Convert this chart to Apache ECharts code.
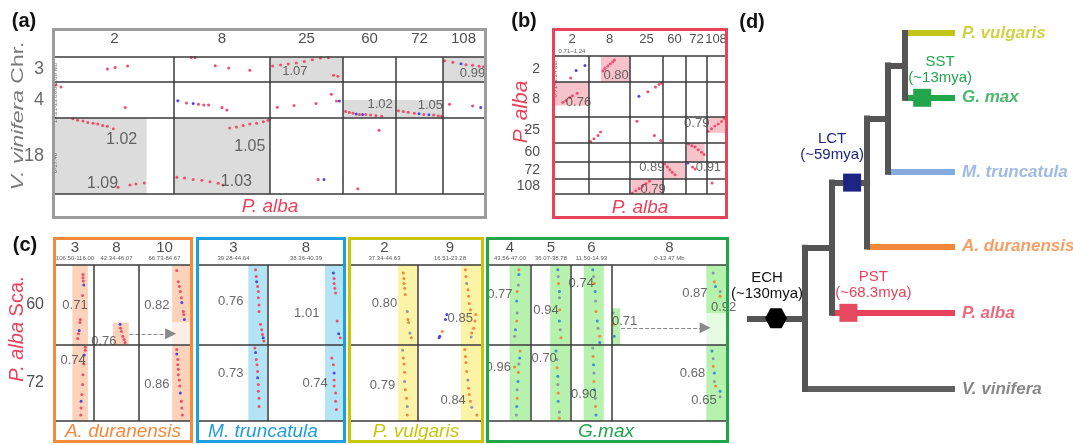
<!DOCTYPE html>
<html>
<head>
<meta charset="utf-8">
<script src="https://cdn.jsdelivr.net/npm/echarts@6/dist/echarts.min.js"></script>
<style>
  html, body { margin: 0; padding: 0; background: #fff; }
  #main { width: 1073px; height: 445px; }
</style>
</head>
<body>
<div id="main"></div>
<script>
// ---------------- (a) V. vinifera chromosomes vs P. alba segments ----------------
const aCols = ['2', '8', '25', '60', '72', '108'];
const aColLen = [119, 96, 73, 53, 47, 41];
const aRows = ['3', '4', '18'];
const aRowRange = ['0-3.89 Mb', '13.21-23.88', '0-17.40'];
const aRowLen = [25, 36, 76];
// shaded syntenic blocks: [col, row, x0, x1, y0, y1] (fractions of the cell)
const aShaded = [[2,0,0,1,0,1],[5,0,0,1,0,1],[3,1,0,1,.5,1],[4,1,0,1,.5,1],[0,2,0,.77,0,1],[1,2,0,1,0,1]];
// Ks ratios written in the cells: [col, row, fx, fy, value]
const aKs = [[2,0,.34,.59,'1.07'],[5,0,.72,.67,'0.99'],[3,1,.70,.63,'1.02'],[4,1,.73,.65,'1.05'],
             [0,2,.56,.29,'1.02'],[0,2,.40,.86,'1.09'],[1,2,.79,.38,'1.05'],[1,2,.65,.84,'1.03']];
// collinear gene pairs: [col, row, fx, fy]
const aRed = [
  [0,0,.44,.48],[0,0,.505,.42],[0,0,.61,.36],
  [0,1,.01,.08],[0,1,.05,.14],[0,1,.59,.71],
  [0,2,.15,.01],[0,2,.19,.03],[0,2,.235,.04],[0,2,.275,.06],[0,2,.32,.07],[0,2,.36,.08],[0,2,.40,.10],[0,2,.44,.11],[0,2,.49,.14],
  [0,2,.53,.91],[0,2,.63,.88],[0,2,.68,.87],[0,2,.75,.855],
  [1,0,.18,.02],[1,0,.22,.02],[1,0,.43,.35],[1,0,.57,.44],[1,0,.79,.53],
  [1,1,.13,.58],[1,1,.255,.62],[1,1,.31,.64],[1,1,.36,.64],[1,1,.50,.71],[1,1,.55,.78],
  [1,2,.58,.13],[1,2,.65,.12],[1,2,.72,.10],[1,2,.79,.08],[1,2,.86,.07],[1,2,.93,.05],[1,2,.98,.03],
  [1,2,.03,.78],[1,2,.11,.79],[1,2,.20,.81],[1,2,.29,.82],[1,2,.375,.84],[1,2,.46,.86],[1,2,.51,.88],
  [2,0,.035,.36],[2,0,.145,.32],[2,0,.25,.28],[2,0,.36,.24],[2,0,.47,.18],[2,0,.58,.11],[2,0,.69,.04],[2,0,.80,.03],[2,0,.87,.73],[2,0,.93,.77],
  [2,1,.10,.70],[2,1,.33,.65],[2,1,.63,.60],[2,1,.84,.34],[2,1,.91,.53],
  [2,2,.66,.81],
  [3,1,.05,.82],[3,1,.12,.85],[3,1,.19,.87],[3,1,.31,.90],[3,1,.43,.90],[3,1,.52,.92],[3,1,.62,.93],[3,1,.73,.95],
  [3,2,.68,.16],[3,2,.28,.93],
  [4,1,.05,.80],[4,1,.155,.82],[4,1,.26,.84],[4,1,.39,.87],[4,1,.59,.90],[4,1,.80,.92],[4,1,.90,.94],[4,1,.97,.95],
  [5,0,.04,.15],[5,0,.24,.21],[5,0,.56,.31],[5,0,.72,.33],[5,0,.88,.37],[5,0,.99,.39],
  [5,1,.16,.62],[5,1,.72,.67]
];
const aBlue = [[1,1,.04,.52],[1,1,.20,.60],[2,1,.95,.53],[2,2,.74,.81],[3,1,.25,.89],[3,1,.37,.90],[4,1,.49,.88],[4,1,.70,.91],[5,0,.44,.27],[5,1,.92,.71]];

// ---------------- (b) P. alba self comparison ----------------
const bCols = ['2', '8', '25', '60', '72', '108'];
const bColRange = ['0.71~1.24', '', '', '', '', ''];
const bColLen = [34, 41, 33, 23, 21, 18];
const bRows = ['2', '8', '25', '60', '72', '108'];
const bRowRange = ['0.71~1.24 Mb', '', '', '', '', ''];
const bRowLen = [26, 35, 26, 19, 17, 15];
const bShaded = [[1,0,.29,1,0,1],[0,1,0,1,0,.67],[5,2,0,1,0,.61],[4,3,.05,.89,0,1],[3,4,0,1,0,1],[2,5,.04,1,0,1]];
const bKs = [[1,0,.66,.75,'0.80'],[0,1,.69,.59,'0.76'],[4,2,.51,.26,'0.79'],[2,4,.66,.29,'0.89'],[5,4,.08,.29,'0.91'],[2,5,.70,.72,'0.79']];
const bRed = [
  [0,0,.46,.85],
  [1,0,.34,.57],[1,0,.39,.47],[1,0,.46,.38],[1,0,.52,.30],[1,0,.58,.22],[1,0,.62,.15],
  [0,1,.23,.58],[0,1,.32,.53],[0,1,.435,.44],[0,1,.51,.39],[0,1,.65,.32],
  [2,1,.54,.28],[2,1,.77,.14],[2,1,.88,.07],[2,1,.95,.03],
  [1,2,.04,.94],[1,2,.12,.84],[1,2,.22,.71],[1,2,.28,.58],
  [2,2,.21,.16],[2,2,.74,.71],[2,2,.93,.90],
  [5,2,.06,.55],[5,2,.25,.45],[5,2,.43,.35],[5,2,.62,.27],[5,2,.81,.17],[5,2,.96,.06],
  [4,3,.12,.05],[4,3,.28,.14],[4,3,.43,.21],[4,3,.58,.35],[4,3,.74,.49],[4,3,.86,.61],
  [3,4,.07,.12],[3,4,.19,.29],[3,4,.30,.45],[3,4,.40,.61],[3,4,.52,.75],
  [4,4,.31,.29],[4,4,.43,.41],
  [5,5,.28,.26],
  [2,5,.07,.94],[2,5,.175,.79],[2,5,.28,.64],[2,5,.38,.47],[2,5,.485,.30],[2,5,.59,.15]
];
const bBlue = [[0,0,.62,.56],[0,0,.88,.37],[2,1,.27,.41],[4,4,.09,.06]];

// ---------------- (c) P. alba scaffolds vs legume genomes ----------------
const cRows = ['60', '72'];
const cRowLen = [80, 76];

const aduCols = ['3', '8', '10'];
const aduRange = ['106.50-116.00', '42.34-46.07', '66.73-84.67'];
const aduLen = [38, 45, 51];
const aduShaded = [[0,0,.43,.84,0,1],[0,1,.43,.84,0,1],[1,0,.42,.77,.72,1],[2,0,.65,1,0,.72],[2,0,.65,1,.72,1,'light'],[2,1,.65,1,0,1]];
const aduKs = [[0,0,.5,.50,'0.71'],[1,0,.22,.95,'0.76'],[2,0,.35,.50,'0.82'],[0,1,.45,.20,'0.74'],[2,1,.35,.52,'0.86']];
const aduRed = [
  [0,0,.71,.12],[0,0,.71,.16],[0,0,.72,.20],[0,0,.70,.38],[0,0,.64,.68],[0,0,.63,.72],[0,0,.59,.86],[0,0,.57,.92],
  [0,1,.77,.03],[0,1,.77,.07],[0,1,.73,.25],[0,1,.71,.39],[0,1,.70,.52],[0,1,.68,.65],[0,1,.66,.83],[0,1,.65,.92],
  [1,0,.59,.79],[1,0,.61,.83],[1,0,.64,.89],[1,0,.67,.93],[1,0,.69,.97],
  [2,0,.74,.07],[2,0,.77,.21],[2,0,.79,.27],[2,0,.81,.33],[2,0,.83,.41],[2,0,.87,.58],[2,0,.88,.62],
  [2,1,.74,.06],[2,1,.76,.19],[2,1,.76,.26],[2,1,.77,.32],[2,1,.77,.39],[2,1,.79,.46],[2,1,.80,.54],[2,1,.83,.74],[2,1,.84,.83],[2,1,.85,.92]
];
const aduBlue = [[0,0,.73,.25],[0,0,.61,.82],[0,1,.74,.13],[0,1,.66,.74],[1,0,.58,.74],[2,0,.84,.47],[2,0,.89,.68],[2,1,.74,.12],[2,1,.81,.63]];
// relocated block: [fromCol, fx, toCol, fx, row, fy]
const aduMove = [[1,.79,2,.62,0,.86]];

const mtrCols = ['3', '8'];
const mtrRange = ['39.28-44.64', '38.36-40.39'];
const mtrLen = [69, 76];
const mtrShaded = [[0,0,.715,.99,0,1],[0,1,.715,.99,0,1],[1,0,.75,1,0,1],[1,1,.75,1,0,1]];
const mtrKs = [[0,0,.46,.45,'0.76'],[1,0,.51,.60,'1.01'],[0,1,.46,.37,'0.73'],[1,1,.62,.50,'0.74']];
const mtrRed = [
  [0,0,.82,.06],[0,0,.83,.145],[0,0,.85,.27],[0,0,.86,.33],[0,0,.86,.41],[0,0,.87,.50],[0,0,.87,.58],[0,0,.89,.74],[0,0,.91,.81],[0,0,.92,.87],[0,0,.94,.95],
  [0,1,.81,.04],[0,1,.83,.19],[0,1,.84,.26],[0,1,.85,.35],[0,1,.86,.52],[0,1,.86,.61],[0,1,.87,.70],[0,1,.87,.81],
  [1,0,.87,.17],[1,0,.87,.23],[1,0,.88,.29],[1,0,.89,.35],[1,0,.91,.70],[1,0,.95,.91],
  [1,1,.84,.17],[1,1,.86,.26],[1,1,.87,.46],[1,1,.87,.54],[1,1,.89,.63],[1,1,.89,.74],[1,1,.90,.85]
];
const mtrBlue = [[0,0,.836,.21],[0,0,.93,.91],[0,1,.82,.10],[0,1,.85,.43],[1,0,.86,.10],[1,0,.93,.86],[1,1,.87,.37]];

const pvuCols = ['2', '9'];
const pvuRange = ['37.34-44.63', '16.51-23.28'];
const pvuLen = [67, 64];
const pvuShaded = [[0,0,.70,.99,0,1],[0,1,.70,.99,0,1],[1,0,.67,.98,0,1],[1,1,.67,.98,0,1]];
const pvuKs = [[0,0,.50,.48,'0.80'],[1,0,.66,.67,'0.85'],[0,1,.47,.53,'0.79'],[1,1,.55,.73,'0.84']];
const pvuOrange = [
  [0,0,.78,.10],[0,0,.79,.17],[0,0,.79,.23],[0,0,.80,.29],[0,0,.81,.37],[0,0,.85,.68],[0,0,.86,.72],[0,0,.90,.91],
  [0,1,.78,.17],[0,1,.79,.25],[0,1,.80,.36],[0,1,.81,.59],[0,1,.83,.70],[0,1,.84,.92],
  [1,0,.74,.06],[1,0,.75,.145],[1,0,.78,.31],[1,0,.79,.39],[1,0,.80,.48],[1,0,.82,.56],[1,0,.90,.62],[1,0,.89,.70],[1,0,.87,.79],[1,0,.84,.85],[1,0,.38,.83],
  [1,1,.73,.06],[1,1,.74,.15],[1,1,.75,.23],[1,1,.76,.35],[1,1,.79,.57],[1,1,.80,.65],[1,1,.82,.74],[1,1,.92,.92]
];
const pvuGray = [[0,0,.84,.58],[0,0,.88,.85],[0,1,.77,.07],[0,1,.80,.48],[0,1,.84,.81],[1,0,.76,.23],[1,0,.83,.90],[1,1,.78,.46],[1,1,.84,.82]];
const pvuBlue = [[1,0,.45,.62],[1,0,.43,.68],[1,0,.34,.89],[1,0,.33,.91]];

const gmaCols = ['4', '5', '6', '8'];
const gmaRange = ['43.56-47.00', '36.07-38.78', '11.50-14.93', '0-13.47 Mb'];
const gmaLen = [42, 40, 41, 115];
const gmaShaded = [[0,0,.49,.98,0,1],[0,1,.49,.98,0,1],[1,0,.48,.98,0,1],[1,1,.48,.98,0,1],[2,0,.31,.80,0,1],[2,1,.31,.80,0,1],
                   [3,0,0,.07,.54,1],[3,0,.82,1,0,.60],[3,0,.82,1,.60,1,'light'],[3,1,.82,1,0,1]];
const gmaKs = [[0,0,.26,.37,'0.77'],[1,0,.375,.57,'0.94'],[2,0,.25,.23,'0.74'],[3,0,.11,.71,'0.71'],[3,0,.72,.36,'0.87'],[3,0,.97,.53,'0.92'],
               [0,1,.22,.29,'0.96'],[1,1,.33,.18,'0.70'],[2,1,.31,.65,'0.90'],[3,1,.70,.38,'0.68'],[3,1,.80,.73,'0.65']];
const gmaPairs = [
  [0,0,.71,.06],[0,0,.71,.12],[0,0,.70,.25],[0,0,.67,.33],[0,0,.66,.45],[0,0,.67,.60],[0,0,.66,.70],[0,0,.63,.81],[0,0,.61,.89],
  [0,1,.74,.08],[0,1,.73,.17],[0,1,.71,.25],[0,1,.70,.36],[0,1,.69,.48],[0,1,.67,.59],[0,1,.67,.70],[0,1,.66,.81],[0,1,.65,.92],[0,1,.61,.29],
  [1,0,.67,.06],[1,0,.68,.145],[1,0,.69,.23],[1,0,.71,.33],[1,0,.71,.41],[1,0,.72,.56],[1,0,.71,.70],[1,0,.73,.81],[1,0,.75,.91],
  [1,1,.625,.08],[1,1,.64,.19],[1,1,.65,.30],[1,1,.67,.41],[1,1,.67,.52],[1,1,.68,.63],[1,1,.68,.74],[1,1,.71,.88],[1,1,.71,.96],
  [2,0,.53,.06],[2,0,.55,.145],[2,0,.57,.23],[2,0,.59,.33],[2,0,.60,.45],[2,0,.61,.58],[2,0,.64,.70],[2,0,.66,.79],[2,0,.70,.89],[2,0,.70,.97],
  [2,1,.53,.04],[2,1,.54,.15],[2,1,.55,.26],[2,1,.56,.37],[2,1,.56,.48],[2,1,.57,.59],[2,1,.59,.70],[2,1,.60,.81],[2,1,.61,.92],
  [3,0,.01,.60],[3,0,.015,.74],[3,0,.02,.89],[3,0,.88,.10],[3,0,.89,.21],[3,0,.90,.27],[3,0,.94,.33],[3,0,.94,.39],
  [3,1,.87,.08],[3,1,.88,.18],[3,1,.88,.28],[3,1,.89,.37],[3,1,.89,.48],[3,1,.90,.54],[3,1,.94,.61],[3,1,.94,.68]
];
const gmaMove = [[3,.08,3,.81,0,.785]];

// ---------------- (d) species tree with polyploidy events ----------------
const treeLeaves = ['P. vulgaris', 'G. max', 'M. truncatula', 'A. duranensis', 'P. alba', 'V. vinifera'];
const leafSlot = [0, 0.91, 1.95, 3.0, 3.93, 5];
// [clade, depth, children]
const treeClades = [
  ['E', 75.6, ['P. vulgaris', 'G. max']],
  ['D', 67.3, ['E', 'M. truncatula']],
  ['C', 57.1, ['D', 'A. duranensis']],
  ['B', 40.0, ['C', 'P. alba']],
  ['A', 26.8, ['B', 'V. vinifera']]
];
// [event, age, branch (child node), depth along branch]
const treeEvents = [
  ['ECH', '(~130mya)', 'A', 12.7],
  ['LCT', '(~59mya)', 'C', 49.8],
  ['PST', '(~68.3mya)', 'P. alba', 48],
  ['SST', '(~13mya)', 'G. max', 84]
];

// ---------------- drawing ----------------
const FN = "'Liberation Sans Narrow','Liberation Sans',Arial,sans-serif";
const FD = "'Liberation Sans',Arial,sans-serif";
const DOT = { r: '#f04e6c', b: '#4b48e0', o: '#f08a3a', g: '#8d96a6', gb: '#3d8fd9' };
const RED = '#e8435a';

const grids = [], xAxes = [], yAxes = [], series = [];
const cum = arr => arr.reduce((o, v) => (o.push(o[o.length - 1] + v), o), [0]);
const tag = (arr, cls) => arr.map(d => [d[0], d[1], d[2], d[3], cls]);

function addPanel(p) {
  const gi = grids.length;
  grids.push({ left: p.left, top: p.top, width: p.width, height: p.height, show: false });
  const cx = cum(p.colLen), cy = cum(p.rowLen);
  xAxes.push({ gridIndex: gi, type: 'value', min: 0, max: cx[cx.length - 1], show: false });
  yAxes.push({ gridIndex: gi, type: 'value', min: 0, max: cy[cy.length - 1], inverse: true, show: false });
  const X = (c, f) => cx[c] + f * p.colLen[c];
  const Y = (r, f) => cy[r] + f * p.rowLen[r];
  const ax = { xAxisIndex: gi, yAxisIndex: gi, silent: true, animation: false };

  series.push({ type: 'scatter', ...ax, z: 1, symbolSize: 0, data: [[0, 0]],
    markArea: { silent: true, label: { show: false },
      data: p.shaded.map(s => [
        { xAxis: X(s[0], s[2]), yAxis: Y(s[1], s[4]), itemStyle: { color: s[6] ? p.light : p.shade, opacity: 1 } },
        { xAxis: X(s[0], s[3]), yAxis: Y(s[1], s[5]) }
      ]) } });

  series.push({ type: 'scatter', ...ax, z: 2, symbolSize: 3, itemStyle: { opacity: 1 },
    data: p.dots.map((d, i) => ({ value: [X(d[0], d[2]), Y(d[1], d[3])],
      itemStyle: { color: DOT[d[4] || p.cycle[i % p.cycle.length]] } })) });

  series.push({ type: 'scatter', ...ax, z: 3, symbolSize: 0, data: [[0, 0]],
    markLine: { silent: true, symbol: ['none', 'none'], label: { show: false }, animation: false,
      lineStyle: { color: '#3a3a3a', width: 1.5, type: 'solid' },
      data: [...cx.slice(1, -1).map(v => ({ xAxis: v })), ...cy.map(v => ({ yAxis: v }))] } });

  (p.moves || []).forEach(m => {
    series.push({ type: 'lines', coordinateSystem: 'cartesian2d', ...ax, z: 4,
      symbol: ['none', 'triangle'], symbolSize: [12, 11],
      lineStyle: { color: '#8a8a8a', width: 1, type: 'dashed', opacity: 1 },
      data: [{ coords: [[X(m[0], m[1]), Y(m[4], m[5])], [X(m[2], m[3]), Y(m[4], m[5])]] }] });
  });

  series.push({ type: 'scatter', ...ax, z: 5, symbolSize: 0,
    label: { show: true, position: 'inside', formatter: '{b}', color: '#444', fontFamily: FN, fontSize: p.ksSize },
    data: p.ks.map(k => ({ name: k[4], value: [X(k[0], k[2]), Y(k[1], k[3])],
      label: p.ksBig && p.rowLen[k[1]] > 50 ? { fontSize: p.ksBig } : undefined })) });

  series.push({ type: 'scatter', ...ax, z: 5, symbolSize: 0,
    label: { show: true, position: 'inside', formatter: '{b}', color: '#222', fontFamily: FN,
      fontSize: p.headSize, offset: [0, -p.headOff] },
    data: p.cols.map((c, i) => ({ name: c, value: [X(i, 0.5), 0] })) });

  if (p.colRange) {
    series.push({ type: 'scatter', ...ax, z: 5, symbolSize: 0,
      label: { show: true, position: 'inside', formatter: '{b}', color: '#333', fontFamily: FN,
        fontSize: 6, offset: [0, -p.rangeOff] },
      data: p.colRange.map((c, i) => ({ name: c, value: [X(i, 0.5), 0] })) });
  }
  if (p.rows) {
    series.push({ type: 'scatter', ...ax, z: 5, symbolSize: 0,
      label: { show: true, position: 'left', distance: p.rowDist, formatter: '{b}', color: p.rowColor,
        fontFamily: FN, fontSize: p.rowSize },
      data: p.rows.map((r, i) => ({ name: r, value: [0, Y(i, 0.5)] })) });
  }
  if (p.rowRange) {
    series.push({ type: 'scatter', ...ax, z: 5, symbolSize: 0,
      label: { show: true, position: 'inside', formatter: '{b}', color: '#444', fontFamily: FN,
        fontSize: 6, rotate: 90, offset: [-p.rowRangeOff, 0] },
      data: p.rowRange.map((r, i) => ({ name: r, value: [0, Y(i, 0.5)] })) });
  }
}

// (a)
addPanel({ left: 55, top: 57, width: 429, height: 137, cols: aCols, colLen: aColLen, rows: aRows, rowLen: aRowLen,
  rowRange: aRowRange, rowRangeOff: 7, rowDist: 11, rowSize: 18, rowColor: '#444',
  shaded: aShaded, shade: '#dcdcdc', ks: aKs, ksSize: 13, ksBig: 16,
  dots: [...tag(aRed, 'r'), ...tag(aBlue, 'b')], headSize: 15, headOff: 18 });
// (b)
addPanel({ left: 555, top: 56, width: 170, height: 138, cols: bCols, colLen: bColLen, rows: bRows, rowLen: bRowLen,
  colRange: bColRange, rangeOff: 5, rowRange: bRowRange, rowRangeOff: 10, rowDist: 15, rowSize: 14, rowColor: '#222',
  shaded: bShaded, shade: '#f6c3cb', ks: bKs, ksSize: 13,
  dots: [...tag(bRed, 'r'), ...tag(bBlue, 'b')], headSize: 13, headOff: 17 });
// (c)
const cCommon = { top: 265, height: 156, rowLen: cRowLen, headSize: 15, headOff: 17, rangeOff: 7, ksSize: 13 };
addPanel({ ...cCommon, left: 56, width: 134, cols: aduCols, colLen: aduLen, colRange: aduRange,
  rows: cRows, rowDist: 12, rowSize: 16, rowColor: '#222',
  shaded: aduShaded, shade: '#fbd3bb', light: '#fdeee5', ks: aduKs, moves: aduMove,
  dots: [...tag(aduRed, 'r'), ...tag(aduBlue, 'b')] });
addPanel({ ...cCommon, left: 199, width: 145, cols: mtrCols, colLen: mtrLen, colRange: mtrRange,
  shaded: mtrShaded, shade: '#b2e4f6', ks: mtrKs,
  dots: [...tag(mtrRed, 'r'), ...tag(mtrBlue, 'b')] });
addPanel({ ...cCommon, left: 351, width: 131, cols: pvuCols, colLen: pvuLen, colRange: pvuRange,
  shaded: pvuShaded, shade: '#fbf3a6', ks: pvuKs,
  dots: [...tag(pvuOrange, 'o'), ...tag(pvuGray, 'g'), ...tag(pvuBlue, 'b')] });
addPanel({ ...cCommon, left: 489, width: 238, cols: gmaCols, colLen: gmaLen, colRange: gmaRange,
  shaded: gmaShaded, shade: '#b6f2ae', light: '#e5fbe2', ks: gmaKs, moves: gmaMove,
  dots: gmaPairs, cycle: ['o', 'gb', 'g'] });

// (d) tree
const leafColor = { 'P. vulgaris': '#c3c61a', 'G. max': '#22a64c', 'M. truncatula': '#86a9df',
  'A. duranensis': '#f5873c', 'P. alba': RED, 'V. vinifera': '#606060' };
const leafText = { ...leafColor, 'V. vinifera': '#6a6a6a' };
const TG = grids.length;
grids.push({ left: 750, top: 33, width: 205, height: 356, show: false });
xAxes.push({ gridIndex: TG, type: 'value', min: 0, max: 100, show: false });
yAxes.push({ gridIndex: TG, type: 'value', min: 0, max: 5, inverse: true, show: false });

const nodeY = {}, nodeX = {};
treeLeaves.forEach((l, i) => { nodeY[l] = leafSlot[i]; nodeX[l] = 100; });
treeClades.forEach(([n, d, kids]) => { nodeX[n] = d; nodeY[n] = kids.reduce((s, k) => s + nodeY[k], 0) / kids.length; });
const GRAY = '#555';
const tipEdges = [], innerEdges = [];
treeClades.forEach(([n, d, kids]) => {
  const ys = kids.map(k => nodeY[k]);
  innerEdges.push({ coords: [[d, Math.min(...ys)], [d, Math.max(...ys)]] });
  kids.forEach(k => {
    const e = { coords: [[d, nodeY[k]], [nodeX[k], nodeY[k]]] };
    if (leafColor[k]) { e.lineStyle = { color: leafColor[k] }; tipEdges.push(e); } else innerEdges.push(e);
  });
});
const rootClade = treeClades[treeClades.length - 1][0];
innerEdges.push({ coords: [[0, nodeY[rootClade]], [nodeX[rootClade], nodeY[rootClade]]] });

const tAx = { xAxisIndex: TG, yAxisIndex: TG, silent: true, animation: false };
series.push({ type: 'lines', coordinateSystem: 'cartesian2d', ...tAx, z: 2,
  lineStyle: { width: 6, opacity: 1, cap: 'butt' }, data: tipEdges });
series.push({ type: 'lines', coordinateSystem: 'cartesian2d', ...tAx, z: 3,
  lineStyle: { width: 6, opacity: 1, color: GRAY, cap: 'square' }, data: innerEdges });

const eventStyle = {
  ECH: { symbol: 'path://M0,10L5.5,0H16.5L22,10L16.5,20H5.5Z', size: [22, 20], color: '#000', text: '#111', offset: [-9, 0], dist: 6 },
  LCT: { symbol: 'rect', size: [18, 18], color: '#1c2585', text: '#1c2585', offset: [-20, 0], dist: 11 },
  PST: { symbol: 'rect', size: [18, 18], color: '#e5485f', text: RED, offset: [25, 0], dist: 3 },
  SST: { symbol: 'rect', size: [18, 18], color: '#22a64c', text: '#22a64c', offset: [18, 0], dist: 3 }
};
series.push({ type: 'scatter', ...tAx, z: 4,
  data: treeEvents.map(([ev, age, br, d]) => {
    const s = eventStyle[ev];
    return { name: ev + '\n' + age, value: [d, nodeY[br]], symbol: s.symbol, symbolSize: s.size,
      itemStyle: { color: s.color, opacity: 1 },
      label: { show: true, position: 'top', distance: s.dist, offset: s.offset, formatter: '{b}',
        color: s.text, fontFamily: FD, fontSize: 15, lineHeight: 16, align: 'center' } };
  }) });
series.push({ type: 'scatter', ...tAx, z: 4, symbolSize: 0,
  data: treeLeaves.map(l => ({ name: l, value: [100, nodeY[l]],
    label: { show: true, position: 'right', distance: 7, formatter: '{b}', color: leafText[l],
      fontFamily: FD, fontSize: 17, fontWeight: 'bold', fontStyle: 'italic' } })) });

// frames, panel letters, axis titles
const txt = (text, x, y, font, fill, extra) => Object.assign({ type: 'text', x, y, z: 50, silent: true,
  style: { text, font, fill, textAlign: 'center', textVerticalAlign: 'middle', align: 'center', verticalAlign: 'middle' } }, extra || {});
const frame = (x, y, w, h, stroke) => ({ type: 'rect', z: 40, silent: true,
  shape: { x, y, width: w, height: h }, style: { fill: 'none', stroke, lineWidth: 3 } });
const rich = (text, size, fill, x, y, stretch) => ({ type: 'text', x, y, z: 50, silent: true, rotation: Math.PI / 2,
  scaleX: stretch || 1,
  style: { text, fill, fontSize: size, fontFamily: FD, align: 'center', verticalAlign: 'middle',
    textAlign: 'center', textVerticalAlign: 'middle',
    rich: { i: { fontStyle: 'italic', fontSize: size, fontFamily: FD, fill } } } });

const graphics = [
  frame(53.5, 29.5, 432, 188, '#9c9c9c'),
  frame(553.5, 29.5, 173, 188, RED),
  frame(54.5, 238.5, 137, 203, '#f7893b'),
  frame(197.5, 238.5, 147, 203, '#1d9de2'),
  frame(349.5, 238.5, 133, 203, '#c6c70c'),
  frame(487.5, 238.5, 240, 203, '#1fa64a'),
  txt('(a)', 24, 21, 'bold 20px ' + FD, '#111'),
  txt('(b)', 524, 21, 'bold 20px ' + FD, '#111'),
  txt('(c)', 25, 245, 'bold 20px ' + FD, '#111'),
  txt('(d)', 752, 22, 'bold 20px ' + FD, '#111'),
  txt('P. alba', 270, 207, 'italic 19px ' + FN, RED),
  txt('P. alba', 640, 208, 'italic 19px ' + FN, RED),
  txt('A. duranensis', 123, 432, 'italic 19px ' + FN, '#f7893b'),
  txt('M. truncatula', 263, 432, 'italic 19px ' + FN, '#1d9de2'),
  txt('P. vulgaris', 416, 432, 'italic 19px ' + FN, '#c6c70c'),
  txt('G.max', 606, 432, 'italic 19px ' + FN, '#1fa64a'),
  rich('{i|V. vinifera} Chr.', 17, '#7a7a7a', 18, 116, 1.35),
  rich('{i|P. alba}', 21, RED, 521, 112),
  rich('{i|P. alba} Sca.', 20, RED, 17, 329)
];

const chart = echarts.init(document.getElementById('main'), null, { renderer: 'canvas' });
chart.setOption({
  animation: false,
  backgroundColor: '#fff',
  grid: grids, xAxis: xAxes, yAxis: yAxes,
  series, graphic: { elements: graphics }
});
</script>
</body>
</html>
